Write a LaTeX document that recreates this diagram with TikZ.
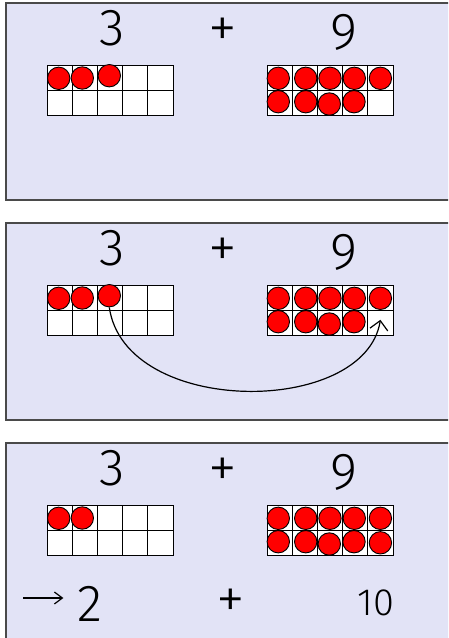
\documentclass[tikz,border=0pt]{standalone}
\usepackage{fontspec}
\newfontfamily\handfont{Fira Sans Light}
\usetikzlibrary{arrows.meta}
\definecolor{panelBg}{HTML}{E2E3F6}
\definecolor{panelEdge}{HTML}{4A4A4A}
\definecolor{counterRed}{HTML}{FF0000}

\begin{document}
\begin{tikzpicture}[x=1pt,y=-1pt,
    panel/.style={draw=panelEdge,fill=panelBg,line width=1.5pt},
    cell/.style={draw=black,fill=white,line width=1pt,minimum size=25.2pt,inner sep=0pt},
    counter/.style={circle,draw=black,fill=counterRed,line width=0.9pt,minimum size=22.4pt,inner sep=0pt},
    num/.style={font=\handfont\fontsize{52}{52}\selectfont,inner sep=0pt},
    small num/.style={font=\handfont\fontsize{38}{38}\selectfont,inner sep=0pt},
    plus/.style={font=\handfont\fontsize{58}{58}\selectfont,inner sep=0pt},
    link/.style={draw=black,line width=1.2pt}]
  \useasboundingbox (0,0) rectangle (448,638);
  \clip (0,0) rectangle (448,638);
  % three panels, same ten-frames
  \foreach \p/\oy in {1/0,2/220,3/440}{
    \draw[panel] (6,3+\oy) rectangle (470,200+\oy);
    \foreach \r in {1,2}
      \foreach \c in {1,...,5}{
        \node[cell] (L\p-\r-\c) at (34.4+25.2*\c,52.4+25.2*\r+\oy) {};
        \node[cell] (R\p-\r-\c) at (254.4+25.2*\c,52.4+25.2*\r+\oy) {};
      }
    \node[num] (three\p) at (112,28+\oy) {3};
    \node[plus] (plus\p) at (223,33+\oy) {+};
    \node[num] (nine\p) at (344,32+\oy) {9};
    % nine on the right
    \foreach \r/\c/\dx/\dy in {1/1/-1.3/0.7,1/2/0.9/0.7,1/3/0/0.7,1/4/-0.9/0.7,1/5/0/0.7,
                               2/1/-1.3/-1.1,2/2/0.9/-1.1,2/3/-0.7/1.2,2/4/-1.2/-1.1}
      \node[counter] (rc\p-\r-\c) at ([shift={(\dx,\dy)}]R\p-\r-\c) {};
  }
  % three on the left (panels 1 and 2)
  \foreach \p in {1,2}
    \foreach \c/\dx/\dy in {1/-0.9/0.7,2/-2.5/0.4,3/-0.7/-1.9}
      \node[counter] (lc\p-\c) at ([shift={(\dx,\dy)}]L\p-1-\c) {};
  % panel 3: one moved over
  \foreach \c/\dx/\dy in {1/-0.9/0.7,2/-2.5/0.4}
    \node[counter] (lc3-\c) at ([shift={(\dx,\dy)}]L3-1-\c) {};
  \node[counter] (rc3-2-5) at (R3-2-5) {};

  % move one counter
  \draw[link,-{Straight Barb[length=9pt,width=18pt]}] (lc2-3.south)
    .. controls (125,417) and (365,417) .. ([yshift=3pt]R2-2-5.center);

  % result line
  \node[num] (two) at (90,604) {2};
  \node[plus] (plusB) at (231,604) {+};
  \node[small num] (ten) at (376,603) {10};
  \coordinate (arrowFrom) at (23,598);
  \draw[link,-{Straight Barb[length=8pt,width=12pt]},shorten >=14pt] (arrowFrom) -- (arrowFrom -| two.west);
\end{tikzpicture}
\end{document}
